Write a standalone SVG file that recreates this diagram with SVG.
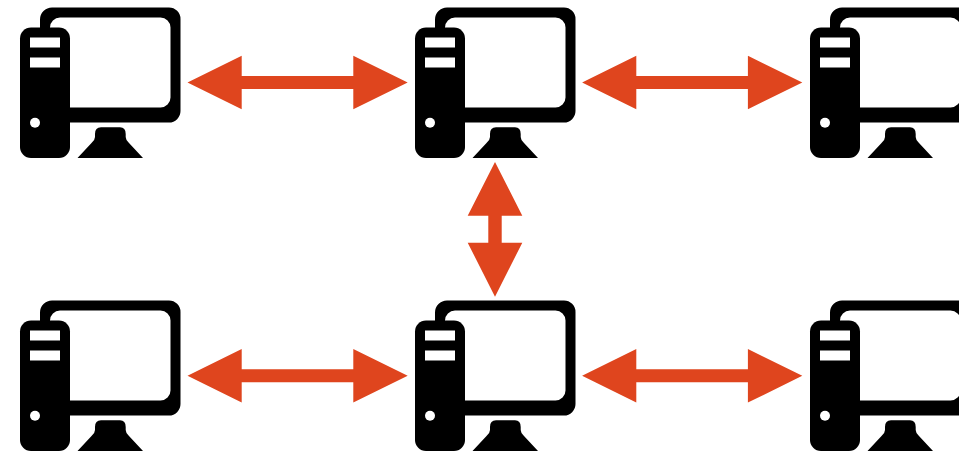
<svg xmlns="http://www.w3.org/2000/svg" width="959" height="454" viewBox="0 0 959 454">
<style>.arrow{fill:#df451e}.k{fill:#000}.w{fill:#fff}</style>
<defs>
<g id="pc">
<path class="k" fill-rule="evenodd" d="M52 7.500H169A11.500 11.500 0 0 1 180.500 19V111A11.500 11.500 0 0 1 169 122.500H52A12 12 0 0 1 40 110.500V19.500A12 12 0 0 1 52 7.500ZM60 17.500A10 10 0 0 0 50 27.500V97.500A10 10 0 0 0 60 107.500H160.500A10 10 0 0 0 170.500 97.500V27.500A10 10 0 0 0 160.500 17.500Z"/>
<rect class="k" x="20" y="27.500" width="50" height="130.500" rx="11"/>
<rect class="w" x="30" y="37.500" width="30" height="10"/>
<rect class="w" x="30" y="57.500" width="30" height="10"/>
<circle class="w" cx="35" cy="122.700" r="5"/>
<path class="k" d="M101 127.300H120Q125.700 127.300 125.700 134V137Q125.700 140 129 143L143 158H77.500L91.500 143Q95 140 95 137V134Q95 127.300 101 127.300Z"/>
</g>
<polygon id="harrow" points="187.500,82.500 241.700,55.700 241.700,76 353.300,76 353.300,55.700 407.700,82.500 353.300,109.300 353.300,89 241.700,89 241.700,109.300"/>
</defs>
<g id="connectors">
<use class="arrow" href="#harrow"/>
<use class="arrow" href="#harrow" x="394.600"/>
<use class="arrow" href="#harrow" y="293.300"/>
<use class="arrow" href="#harrow" x="394.600" y="293.300"/>
<polygon class="arrow" points="495,162 522.300,215.700 501.700,215.700 501.700,242.700 522.300,242.700 495,296.700 467.700,242.700 488.300,242.700 488.300,215.700 467.700,215.700"/>
</g>
<g id="pc-top-left"><use href="#pc"/></g>
<g id="pc-top-center"><use href="#pc" x="395"/></g>
<g id="pc-top-right"><use href="#pc" x="790"/></g>
<g id="pc-bottom-left"><use href="#pc" y="293"/></g>
<g id="pc-bottom-center"><use href="#pc" x="395" y="293"/></g>
<g id="pc-bottom-right"><use href="#pc" x="790" y="293"/></g>
</svg>
